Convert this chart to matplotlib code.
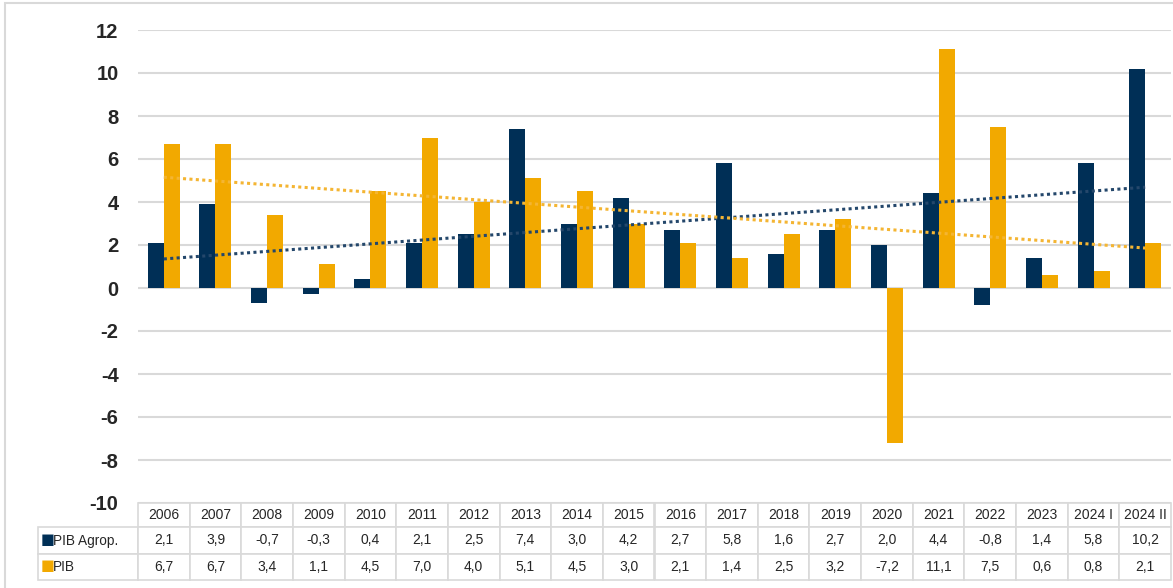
import numpy as np
import matplotlib
matplotlib.use("Agg")
import matplotlib.pyplot as plt
from matplotlib.patches import Rectangle

plt.rcParams["font.family"] = ["Liberation Sans", "DejaVu Sans"]
plt.rcParams["axes.unicode_minus"] = False

years = ["2006", "2007", "2008", "2009", "2010", "2011", "2012", "2013", "2014", "2015",
         "2016", "2017", "2018", "2019", "2020", "2021", "2022", "2023", "2024 I", "2024 II"]
pib_agro = [2.1, 3.9, -0.7, -0.3, 0.4, 2.1, 2.5, 7.4, 3.0, 4.2,
            2.7, 5.8, 1.6, 2.7, 2.0, 4.4, -0.8, 1.4, 5.8, 10.2]
pib = [6.7, 6.7, 3.4, 1.1, 4.5, 7.0, 4.0, 5.1, 4.5, 3.0,
       2.1, 1.4, 2.5, 3.2, -7.2, 11.1, 7.5, 0.6, 0.8, 2.1]
series_names = ["PIB Agrop.", "PIB"]

NAVY = "#002F56"
GOLD = "#F2A900"
GRID = "#D9D9D9"
TXT = "#262626"

W, H = 1173, 588
fig = plt.figure(figsize=(W / 100, H / 100), dpi=100)

# outer frame like the excel chart area
fig.add_artist(Rectangle((5 / W, -0.01), 1.2, 1 - 3 / H + 0.01, transform=fig.transFigure,
                         fill=False, edgecolor=GRID, linewidth=1.5))

ax_l, ax_r, ax_t, ax_b = 138, 1171, 30, 503
ax = fig.add_axes([ax_l / W, 1 - ax_b / H, (ax_r - ax_l) / W, (ax_b - ax_t) / H])

x = np.arange(len(years))
bw = 0.31
ax.bar(x - bw / 2, pib_agro, bw, color=NAVY, zorder=3)
ax.bar(x + bw / 2, pib, bw, color=GOLD, zorder=3)

# linear trend lines
for vals, col in [(pib_agro, "#24476B"), (pib, "#F4B533")]:
    k, b = np.polyfit(x, vals, 1)
    ax.plot(x, k * x + b, color=col, linestyle=(0, (1, 1.1)), linewidth=2.2,
            dash_capstyle="butt", zorder=4)

ax.set_xlim(-0.5, len(years) - 0.5)
ax.set_ylim(-10, 12)
ax.set_yticks(np.arange(-10, 13, 2))
ax.set_xticks([])
ax.grid(axis="y", color=GRID, linewidth=1.5, zorder=0)
for s in ax.spines.values():
    s.set_visible(False)
ax.tick_params(axis="y", length=0, pad=14, labelsize=14.5, labelcolor=TXT)
for lab in ax.get_yticklabels():
    lab.set_fontweight("semibold")

# data table under the chart (first column holds the series names)
cell_text = [[""] + [f"{v:.1f}".replace(".", ",") for v in pib_agro],
             [""] + [f"{v:.1f}".replace(".", ",") for v in pib]]
tb_left, tb_bot = 38, 580
pw = ax_r - ax_l
ph = ax_b - ax_t
tb = ax.table(cellText=cell_text, colLabels=[""] + years, cellLoc="center",
              bbox=[-(ax_l - tb_left) / pw, -(tb_bot - ax_b) / ph,
                    (ax_r - tb_left) / pw, (tb_bot - ax_b) / ph])
tb.auto_set_font_size(False)
colw = pw / len(years)
for (r, c), cell in tb.get_celld().items():
    cell.set_edgecolor(GRID)
    cell.set_linewidth(1.2)
    cell.get_text().set_fontsize(10)
    cell.get_text().set_color(TXT)
    cell.set_width((ax_l - tb_left) if c == 0 else colw)
    cell.set_height(24 if r == 0 else 26)
    if r == 0 and c == 0:
        cell.visible_edges = ""

# legend keys in the name column
for i, (name, col) in enumerate(zip(series_names, [NAVY, GOLD])):
    yc = 1 - (541 + 26 * i) / H
    fig.text(41 / W, yc + 1 / H, "\u25A0", color=col, fontsize=10.5, va="center", ha="left",
             family="DejaVu Sans")
    fig.text(53 / W, yc, name, color=TXT, fontsize=9.8, va="center", ha="left")

fig.savefig("out.png", dpi=100)
